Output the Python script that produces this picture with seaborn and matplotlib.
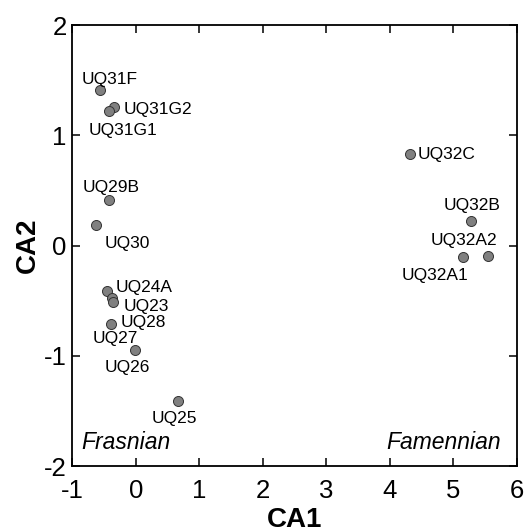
import matplotlib
matplotlib.use("Agg")
import matplotlib.pyplot as plt
import seaborn as sns
import pandas as pd

samples = ["UQ31F", "UQ31G2", "UQ31G1", "UQ29B", "UQ30", "UQ24A", "UQ23", "UQ27",
           "UQ28", "UQ26", "UQ25", "UQ32C", "UQ32B", "UQ32A2", "UQ32A1"]
ca1 = [-0.565, -0.342, -0.42, -0.427, -0.623, -0.459, -0.379, -0.352,
       -0.395, -0.008, 0.66, 4.32, 5.28, 5.55, 5.15]
ca2 = [1.41, 1.26, 1.22, 0.416, 0.187, -0.41, -0.48, -0.515,
       -0.71, -0.95, -1.41, 0.83, 0.223, -0.092, -0.107]

# label offsets in pixels (dx, dy) relative to each point
label_offsets = {
    "UQ31F": (-18, 6), "UQ31G2": (10, -7), "UQ31G1": (-21, -24), "UQ29B": (-26, 8),
    "UQ30": (8, -23), "UQ24A": (9, -1), "UQ23": (12, -13), "UQ27": (-21, -41),
    "UQ28": (10, -3), "UQ26": (-31, -22), "UQ25": (-26, -22), "UQ32C": (8, -5),
    "UQ32B": (-27, 11), "UQ32A2": (-58, 11), "UQ32A1": (-61, -23),
}

df = pd.DataFrame({"sample": samples, "CA1": ca1, "CA2": ca2})

sns.set_style("ticks")
plt.rcParams["font.family"] = ["Liberation Sans", "DejaVu Sans"]
plt.rcParams["axes.unicode_minus"] = False
plt.rcParams["text.color"] = "black"
plt.rcParams["axes.labelcolor"] = "black"

fig = plt.figure(figsize=(5.26, 5.32), dpi=100)
ax = fig.add_axes([0.1375, 0.124, 0.845, 0.829])

sns.scatterplot(data=df, x="CA1", y="CA2", ax=ax, color="#808080",
                edgecolor="#333333", linewidth=0.7, s=52, zorder=3, legend=False)

for name, x, y in zip(samples, ca1, ca2):
    dx, dy = label_offsets[name]
    ax.annotate(name, (x, y), xytext=(dx, dy), textcoords="offset pixels",
                ha="left", va="baseline", fontsize=12.5, color="black")

ax.set_xlim(-1, 6)
ax.set_ylim(-2, 2)
ax.set_xticks(range(-1, 7))
ax.set_yticks(range(-2, 3))
ax.tick_params(direction="in", top=True, right=True, length=6, width=1.1,
               labelsize=18.5, colors="black")
ax.tick_params(axis="x", pad=9)
ax.tick_params(axis="y", pad=4)
for sp in ax.spines.values():
    sp.set_linewidth(1.3)
    sp.set_color("black")

ax.set_xlabel("CA1", fontsize=20, fontweight="bold", labelpad=3)
ax.set_ylabel("CA2", fontsize=20, fontweight="bold", labelpad=2)

ax.text(0.02, 0.039, "Frasnian", transform=ax.transAxes, fontsize=16.5,
        style="italic", ha="left", va="baseline", color="black")
ax.text(0.964, 0.039, "Famennian", transform=ax.transAxes, fontsize=16.5,
        style="italic", ha="right", va="baseline", color="black")

fig.savefig("out.png", dpi=100)
